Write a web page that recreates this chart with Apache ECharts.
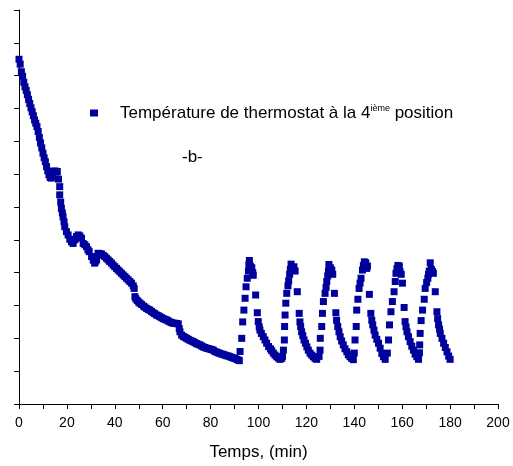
<!DOCTYPE html>
<html>
<head>
<meta charset="utf-8">
<script src="https://cdn.jsdelivr.net/npm/echarts@6/dist/echarts.min.js"></script>
<style>html,body{margin:0;padding:0;background:#fff}#c{width:513px;height:466px}</style>
</head>
<body>
<div id="c"></div>
<script>
// x axis ticks (min)
const xTicks = [0, 20, 40, 60, 80, 100, 120, 140, 160, 180, 200];
const seriesName = 'Température de thermostat à la 4ième position';
const panelLabel = '-b-';
const xTitle = 'Temps, (min)';

// [time (min), temperature (axis units, unlabeled)]
const coolingStart = [
  [0.0,10.50],[0.5,10.35],[1.0,10.12],[1.5,9.98],[2.0,9.80],[2.5,9.66],[3.0,9.55],[3.5,9.42],
  [4.0,9.28],[4.5,9.15],[5.0,9.02],[5.5,8.90],[6.0,8.78],[6.5,8.65],[7.0,8.55],[7.5,8.45],
  [8.0,8.30],[8.5,8.12],[9.0,7.95],[9.5,7.80],[10.0,7.64],[10.5,7.50],[11.0,7.38],[11.5,7.23],
  [12.0,7.10],[12.5,6.98],[13.0,6.90],[13.5,6.88],[14.0,6.95],[14.5,7.08],[15.0,7.10],[15.5,7.06],
  [16.0,7.08],[16.5,6.85],[17.0,6.62]
];
const coolingEnd = [
  [17.0,6.37],[17.4,6.15],[17.7,5.96],[18.1,5.82],[18.4,5.70],[18.8,5.55],[19.1,5.40],[19.8,5.25],
  [20.5,5.15],[21.2,5.02],[21.9,4.94],[22.6,4.89],[23.3,5.00],[24.0,5.10],[24.7,5.15],[25.4,5.12],
  [26.1,5.05],[26.8,4.89],[27.5,4.85],[28.2,4.79],[28.8,4.70],[29.3,4.64],[30.3,4.49],[31.0,4.38],
  [31.6,4.29],[32.0,4.35],[32.4,4.39],[33.0,4.59],[33.7,4.58],[34.4,4.57],[35.1,4.53],[35.8,4.49],
  [36.5,4.44],[37.2,4.39],[37.9,4.34],[38.6,4.29],[39.3,4.23],[40.0,4.18],[40.7,4.13],[41.4,4.08],
  [42.1,4.03],[42.8,3.98],[43.5,3.93],[44.2,3.88],[44.9,3.83],[45.6,3.78],[46.3,3.73],[47.0,3.68],
  [47.7,3.60],[48.1,3.52],[48.4,3.27],[48.8,3.20],[49.4,3.15],[50.0,3.10],[50.5,3.07],[51.2,3.03],
  [52.0,2.98],[52.6,2.95],[53.3,2.91],[54.0,2.88],[54.6,2.86],[55.3,2.82],[56.0,2.78],[56.7,2.75],
  [57.4,2.71],[58.1,2.69],[58.8,2.66],[59.5,2.63],[60.2,2.60],[60.9,2.58],[61.6,2.56],[62.3,2.53],
  [63.0,2.50],[63.7,2.48],[64.4,2.46],[65.1,2.46],[65.8,2.45],[66.5,2.44],[66.9,2.30],[67.2,2.20],
  [67.9,2.10],[68.6,2.06],[69.3,2.03],[70.0,2.00],[70.7,1.97],[71.4,1.94],[72.1,1.92],[72.7,1.90],
  [73.4,1.87],[74.1,1.84],[74.8,1.82],[75.5,1.80],[76.2,1.77],[76.9,1.74],[77.6,1.72],[78.3,1.70],
  [79.0,1.69],[79.7,1.67],[80.4,1.66],[81.1,1.64],[81.8,1.60],[82.5,1.58],[83.2,1.56],[83.9,1.54],
  [84.6,1.52],[85.3,1.51],[86.0,1.49],[86.7,1.47],[87.4,1.46],[88.1,1.44],[88.8,1.42],[89.5,1.40],
  [90.2,1.39],[90.9,1.36],[91.6,1.34],[92.0,1.32]
];
const cycle1 = [
  [92.3,1.60],[93.0,2.00],[93.4,2.50],[93.9,2.86],[94.4,3.22],[94.8,3.57],[95.3,3.83],[95.8,4.05],
  [96.0,4.25],[96.2,4.37],[96.6,4.20],[97.2,4.15],[97.6,4.00],[97.8,3.92],[98.8,3.32],[99.5,2.78],
  [99.9,2.51],[100.3,2.35],[100.6,2.25],[101.2,2.15],[102.0,2.05],[102.7,1.95],[103.4,1.85],[104.2,1.75],
  [105.0,1.68],[105.5,1.62],[106.2,1.55],[106.9,1.49],[107.6,1.44],[108.3,1.40],[109.0,1.36],[109.7,1.39]
];
const cycle2 = [
  [110.0,1.45],[110.4,1.64],[110.8,1.95],[110.9,2.36],[111.1,2.71],[111.4,3.07],[111.8,3.37],[112.3,3.60],
  [112.6,3.75],[113.0,3.95],[113.3,4.10],[113.6,4.26],[114.2,4.12],[114.8,4.18],[115.3,4.05],[116.2,3.42],
  [117.0,2.76],[117.3,2.50],[117.6,2.36],[118.0,2.20],[118.5,2.08],[119.0,1.95],[119.6,1.85],[120.2,1.74],
  [120.8,1.64],[121.5,1.55],[122.2,1.49],[122.9,1.44],[123.6,1.39],[124.3,1.36]
];
const cycle3 = [
  [125.3,1.45],[125.7,1.64],[125.8,2.00],[126.4,2.36],[126.7,2.76],[127.1,3.12],[127.8,3.37],[128.2,3.55],
  [128.5,3.73],[128.9,3.90],[129.2,4.05],[129.4,4.25],[130.0,4.15],[130.6,4.08],[131.0,3.95],[131.7,3.37],
  [132.3,2.78],[132.6,2.55],[133.1,2.36],[133.6,2.20],[134.1,2.05],[134.7,1.92],[135.4,1.80],[136.1,1.68],
  [136.9,1.59],[137.5,1.50],[138.2,1.44],[138.9,1.39],[139.6,1.35]
];
const cycle4 = [
  [140.0,1.55],[140.3,1.95],[140.8,2.36],[141.0,2.86],[141.5,3.19],[142.0,3.52],[142.4,3.68],[142.8,3.83],
  [143.4,4.08],[143.8,4.22],[144.2,4.33],[144.8,4.30],[145.2,4.13],[145.5,4.20],[146.3,3.34],[146.9,2.76],
  [147.3,2.55],[147.7,2.41],[148.2,2.25],[148.7,2.10],[149.4,1.97],[150.1,1.85],[150.8,1.70],[151.5,1.54],
  [152.2,1.44],[152.9,1.36]
];
const cycle5 = [
  [153.8,1.55],[154.3,1.95],[154.7,2.41],[155.3,2.81],[155.9,3.12],[156.6,3.42],[157.1,3.73],[157.4,3.98],
  [157.8,4.12],[158.2,4.22],[158.8,4.20],[159.1,4.03],[159.6,3.95],[160.1,3.68],[160.8,2.94],[161.2,2.51],
  [161.6,2.35],[162.0,2.20],[162.6,2.05],[163.3,1.90],[164.0,1.76],[164.7,1.64],[165.4,1.52],[166.1,1.44],
  [166.8,1.36]
];
const cycle6 = [
  [167.2,1.56],[167.3,1.80],[167.5,2.15],[167.9,2.54],[168.5,2.86],[169.2,3.19],[169.6,3.52],[170.2,3.70],
  [170.7,3.83],[171.0,3.95],[171.3,4.05],[171.7,4.30],[172.2,4.10],[172.7,4.03],[173.0,3.98],[173.8,3.42],
  [174.5,2.81],[174.8,2.60],[175.2,2.41],[175.6,2.28],[175.9,2.15],[176.6,2.00],[177.3,1.85],[178.0,1.72],
  [178.7,1.59],[179.4,1.46],[180.0,1.36]
];

const allPoints = [].concat(coolingStart, coolingEnd, cycle1, cycle2, cycle3, cycle4, cycle5, cycle6);
const blue = '#00009c';
const FONT = 'Liberation Sans, Arial, sans-serif';

const chart = echarts.init(document.getElementById('c'), null, {renderer: 'canvas'});
chart.setOption({
  animation: false,
  backgroundColor: '#fff',
  grid: {left: 19, right: 15, top: 10, bottom: 62, containLabel: false},
  xAxis: {
    type: 'value', min: xTicks[0], max: xTicks[xTicks.length - 1], interval: 20,
    name: xTitle, nameLocation: 'middle', nameGap: 40,
    nameTextStyle: {fontFamily: FONT, fontSize: 17, color: '#000'},
    axisLine: {show: true, lineStyle: {color: '#000', width: 1}},
    axisTick: {show: true, inside: false, length: 5, lineStyle: {color: '#000'}},
    minorTick: {show: true, splitNumber: 2, length: 5, lineStyle: {color: '#000'}},
    axisLabel: {fontFamily: FONT, fontSize: 14, color: '#000', margin: 12},
    splitLine: {show: false}
  },
  yAxis: {
    type: 'value', min: 0, max: 12, interval: 1,
    axisLine: {show: true, onZero: false, lineStyle: {color: '#000', width: 1}},
    axisTick: {show: true, inside: false, length: 5, lineStyle: {color: '#000'}},
    axisLabel: {show: false},
    splitLine: {show: false}
  },
  legend: {
    show: true, left: 85, top: 99, orient: 'horizontal',
    icon: 'rect', itemWidth: 8, itemHeight: 7,
    itemStyle: {color: blue, opacity: 1},
    formatter: () => '{p|Température de thermostat à la 4}{s|ième}{a| position}',
    textStyle: {
      fontFamily: FONT, color: '#000',
      rich: {
        p: {fontFamily: FONT, fontSize: 17, color: '#000', lineHeight: 18, padding: [0, 0, 0, 17]},
        a: {fontFamily: FONT, fontSize: 17, color: '#000', lineHeight: 18},
        s: {fontFamily: FONT, fontSize: 9, color: '#000', lineHeight: 9, verticalAlign: 'top'}
      }
    },
    data: [seriesName]
  },
  graphic: [{
    type: 'text', left: 182, top: 149,
    style: {text: panelLabel, fontFamily: FONT, fontSize: 17, fill: '#000'}
  }],
  series: [{
    name: seriesName, type: 'scatter', symbol: 'rect', symbolSize: 7,
    itemStyle: {color: blue, opacity: 1},
    data: allPoints
  }]
});
</script>
</body>
</html>
